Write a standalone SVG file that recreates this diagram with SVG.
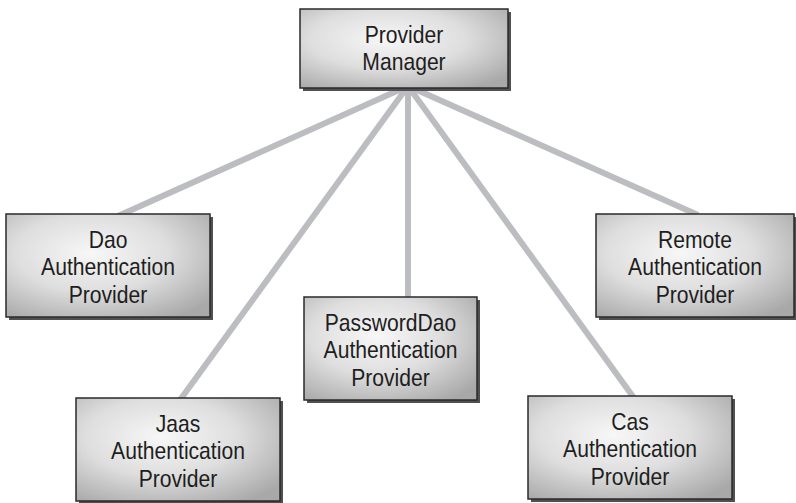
<svg xmlns="http://www.w3.org/2000/svg" width="796" height="503" viewBox="0 0 796 503">
<defs>
<radialGradient id="g" cx="0.42" cy="0.38" r="0.75">
<stop offset="0" stop-color="#f7f7f7"/>
<stop offset="0.5" stop-color="#dedede"/>
<stop offset="1" stop-color="#a8a8a8"/>
</radialGradient>
<style>
.sh{fill:#505050;}
.bx{fill:url(#g);stroke:#2a2a2a;stroke-width:1.5;}
.t{font-family:"Liberation Sans",Arial,sans-serif;font-size:24px;fill:#1e1e1e;text-anchor:middle;}
.c{stroke:#bcbdc0;stroke-width:6;fill:none;}
</style>
</defs>
<rect width="796" height="503" fill="#ffffff"/>
<g id="connectors">
<line class="c" x1="408" y1="86" x2="118" y2="216"/>
<line class="c" x1="408" y1="86" x2="180" y2="400"/>
<line class="c" x1="408" y1="86" x2="408" y2="299"/>
<line class="c" x1="408" y1="86" x2="634" y2="398"/>
<line class="c" x1="408" y1="86" x2="698" y2="215"/>
</g>
<g id="manager">
<rect class="sh" x="303" y="12" width="208" height="79"/>
<rect class="bx" x="300" y="9" width="208" height="79"/>
<g transform="translate(404 0) scale(0.88 1)">
<text class="t" x="0" y="43">Provider</text>
<text class="t" x="0" y="70">Manager</text>
</g>
</g>
<g id="dao">
<rect class="sh" x="9" y="217" width="204" height="103"/>
<rect class="bx" x="6" y="214" width="204" height="103"/>
<g transform="translate(108 0) scale(0.88 1)">
<text class="t" x="0" y="248">Dao</text>
<text class="t" x="0" y="275">Authentication</text>
<text class="t" x="0" y="303">Provider</text>
</g>
</g>
<g id="remote">
<rect class="sh" x="599" y="217" width="198" height="103"/>
<rect class="bx" x="596" y="214" width="198" height="103"/>
<g transform="translate(695 0) scale(0.88 1)">
<text class="t" x="0" y="248">Remote</text>
<text class="t" x="0" y="275">Authentication</text>
<text class="t" x="0" y="303">Provider</text>
</g>
</g>
<g id="passworddao">
<rect class="sh" x="307" y="300" width="173" height="103"/>
<rect class="bx" x="304" y="297" width="173" height="103"/>
<g transform="translate(390.5 0) scale(0.88 1)">
<text class="t" x="0" y="331">PasswordDao</text>
<text class="t" x="0" y="358">Authentication</text>
<text class="t" x="0" y="386">Provider</text>
</g>
</g>
<g id="jaas">
<rect class="sh" x="79" y="401" width="204" height="103"/>
<rect class="bx" x="76" y="398" width="204" height="103"/>
<g transform="translate(178 0) scale(0.88 1)">
<text class="t" x="0" y="432">Jaas</text>
<text class="t" x="0" y="459">Authentication</text>
<text class="t" x="0" y="487">Provider</text>
</g>
</g>
<g id="cas">
<rect class="sh" x="531" y="399" width="204" height="103"/>
<rect class="bx" x="528" y="396" width="204" height="103"/>
<g transform="translate(630 0) scale(0.88 1)">
<text class="t" x="0" y="430">Cas</text>
<text class="t" x="0" y="457">Authentication</text>
<text class="t" x="0" y="485">Provider</text>
</g>
</g>
</svg>
